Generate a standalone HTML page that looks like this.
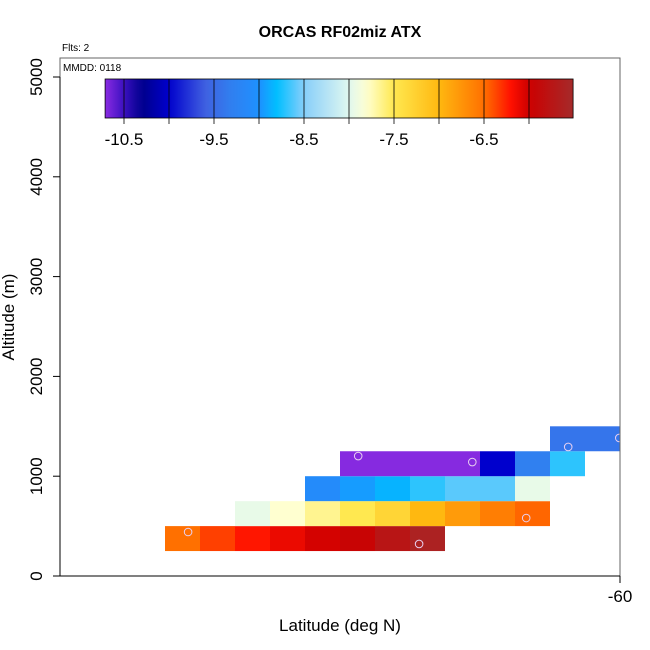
<!DOCTYPE html>
<html><head><meta charset="utf-8"><style>
html,body{margin:0;padding:0;background:#fff;}
svg{display:block;font-family:"Liberation Sans",sans-serif;}
</style></head><body>
<svg id="chart" width="650" height="650" viewBox="0 0 650 650"></svg>
<script>
const rowAltitudes = [250, 500, 750, 1000, 1250];
const rowStartLats = [-66.5, -65.5, -64.5, -64.0, -61.0];
const rowValues = [
  [-6.5, -6.35, -6.22, -6.12, -6.03, -5.95, -5.75, -5.6],
  [-7.95, -7.8, -7.65, -7.5, -7.3, -7.0, -6.8, -6.6, -6.47],
  [-9.1, -8.95, -8.85, -8.7, -8.6, -8.6, -7.95],
  [-10.7, -10.7, -10.7, -10.7, -10.0, -9.3, -8.7],
  [-9.4, -9.4]
];
const pointLats = [-66.17, -63.74, -62.11, -61.34, -62.87, -60.74, -60.01];
const pointAlts = [441, 1202, 1142, 581, 321, 1293, 1383];
const cbTicks = [-10.5, -9.5, -8.5, -7.5, -6.5];
const yTicks = [0, 1000, 2000, 3000, 4000, 5000];
const xTicks = [-60];

const stopVals = [-10.71,-10.5,-10.3,-10.0,-9.6,-9.3,-9.0,-8.8,-8.5,-8.0,-7.8,-7.5,-7.0,-6.5,-6.2,-6.0,-5.51];
const stopCols = ["#8a2be2","#3a10c0","#00008b","#0000cd","#4060e0","#3080f0","#1e90ff","#00bfff","#87cefa","#e0f8f0","#ffffd0","#ffe850","#ffb810","#ff7000","#ff1000","#cc0000","#a52a2a"];
function hex(c){return [1,3,5].map(i=>parseInt(c.substr(i,2),16));}
function colorFor(v){
  if(v<=stopVals[0])return stopCols[0];
  for(let i=1;i<stopVals.length;i++){
    if(v<=stopVals[i]){
      const t=(v-stopVals[i-1])/(stopVals[i]-stopVals[i-1]);
      const a=hex(stopCols[i-1]),b=hex(stopCols[i]);
      return "rgb("+a.map((x,k)=>Math.round(x+(b[k]-x)*t)).join(",")+")";
    }
  }
  return stopCols[stopCols.length-1];
}
const L=60,R=620,T=58,B=576;
const xS=lat=>620+(lat+60)*70;
const yS=alt=>576-alt*0.0998;
const cS=v=>124+(v+10.5)*90;
const NS="http://www.w3.org/2000/svg";
const svg=document.getElementById('chart');
function mk(tag,attrs,parent){const e=document.createElementNS(NS,tag);for(const k in attrs)e.setAttribute(k,attrs[k]);(parent||svg).appendChild(e);return e;}

const defs=mk('defs',{});
const cp=mk('clipPath',{id:'pc'},defs);
mk('rect',{x:L,y:T,width:R-L,height:B-T},cp);
const cells=mk('g',{'clip-path':'url(#pc)'});


rowValues.forEach((row,r)=>{
  row.forEach((v,i)=>{
    const lat0=rowStartLats[r]+i*0.5;
    const x0=xS(lat0),x1=xS(lat0+0.5);
    const y0=yS(rowAltitudes[r]+250),y1=yS(rowAltitudes[r]);
    const c=mk('rect',{x:x0,y:y0,width:x1-x0,height:y1-y0,fill:colorFor(v)},cells);
    
    
  });
});
pointLats.forEach((lat,i)=>{
  const p=mk('circle',{cx:xS(lat),cy:yS(pointAlts[i]),r:3.8,fill:'none',stroke:'#e8d0f0','stroke-width':1},cells);
  
  
});

const fr=mk('rect',{x:L,y:T,width:R-L,height:B-T,fill:'none',stroke:'#666','stroke-width':1});


mk('line',{x1:L,y1:B,x2:R,y2:B,stroke:'#000','stroke-width':1});
mk('line',{x1:L,y1:yS(0),x2:L,y2:yS(5000),stroke:'#000','stroke-width':1});

yTicks.forEach(t=>{
  const y=yS(t);
  mk('line',{x1:L-7,y1:y,x2:L,y2:y,stroke:'#000'});
  const tx=mk('text',{x:42,y:y,'font-size':17,'text-anchor':'middle',transform:`rotate(-90 42 ${y})`});
  tx.textContent=t;
  
  
});
xTicks.forEach(t=>{
  const x=xS(t);
  mk('line',{x1:x,y1:B,x2:x,y2:B+7,stroke:'#000'});
  const tx=mk('text',{x:x,y:602,'font-size':17,'text-anchor':'middle'});
  tx.textContent=t;
  
  
});

const grad=mk('linearGradient',{id:'cbg',x1:0,x2:1,y1:0,y2:0},defs);
const vmin=-10.71,vmax=-5.51;
for(let k=0;k<=60;k++){const v=vmin+(vmax-vmin)*k/60;mk('stop',{offset:k/60,'stop-color':colorFor(v)},grad);}
const cb=mk('rect',{x:cS(vmin),y:79,width:cS(vmax)-cS(vmin),height:39,fill:'url(#cbg)',stroke:'#000','stroke-width':0.8});


for(let v=-10.5;v<=-6.0;v+=0.5){
  mk('line',{x1:cS(v),y1:79,x2:cS(v),y2:124,stroke:'#000','stroke-width':0.8});
}
cbTicks.forEach(t=>{
  const tx=mk('text',{x:cS(t),y:145,'font-size':17,'text-anchor':'middle'});
  tx.textContent=t;
  
  
});

function txt(s,a,name){const t=mk('text',a);t.textContent=s;return t;}
txt('ORCAS RF02miz ATX',{x:340,y:37,'font-size':16,'font-weight':'bold','text-anchor':'middle'},'chart-title');
txt('Flts: 2',{x:62,y:51,'font-size':10},'flights-label');
txt('MMDD: 0118',{x:63,y:71,'font-size':10},'date-label');
txt('Latitude (deg N)',{x:340,y:631,'font-size':17,'text-anchor':'middle'},'x-axis-title');
txt('Altitude (m)',{x:14,y:317,'font-size':17,'text-anchor':'middle',transform:'rotate(-90 14 317)'},'y-axis-title');
</script>
</body></html>
